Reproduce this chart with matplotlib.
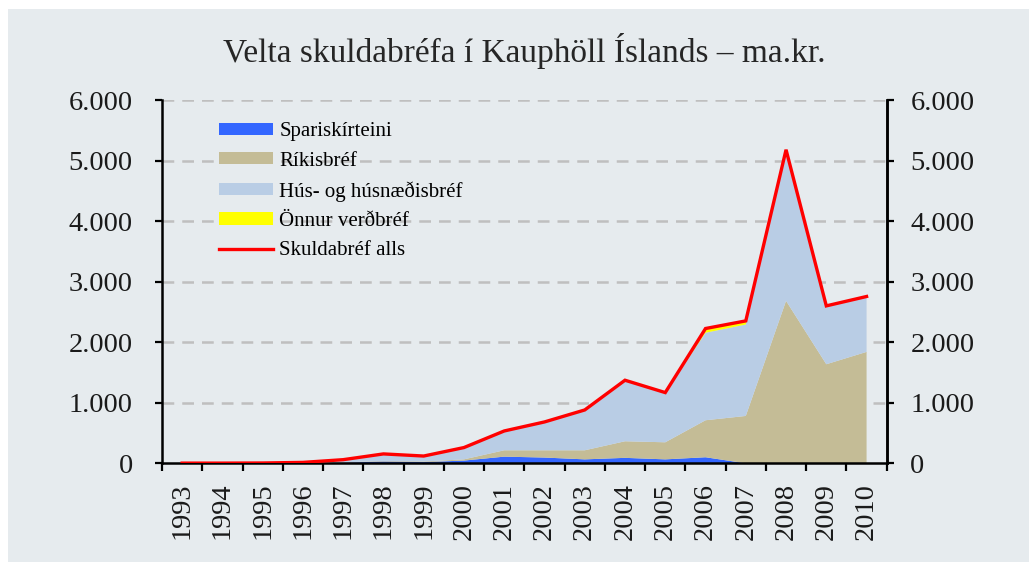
import matplotlib
matplotlib.use("Agg")
import matplotlib.pyplot as plt
from matplotlib.patches import Rectangle, Patch
from matplotlib.lines import Line2D
import numpy as np

years = [str(y) for y in range(1993, 2011)]
spariskirteini = [0, 0, 0, 2, 10, 30, 20, 45, 110, 95, 65, 90, 65, 100, 0, 0, 0, 0]
rikisbref = [0, 0, 0, 2, 5, 10, 10, 20, 105, 120, 150, 274, 282, 611, 782, 2683, 1636, 1840]
hus = [3, 3, 5, 11, 45, 115, 90, 195, 319, 468, 666, 1008, 821, 1445, 1510, 2496, 964, 915]
onnur = [0, 0, 0, 0, 0, 0, 0, 0, 0, 0, 0, 0, 0, 70, 60, 0, 0, 0]
alls = [3, 3, 5, 15, 60, 155, 120, 260, 534, 683, 881, 1372, 1168, 2226, 2352, 5179, 2600, 2755]
yticks = [0, 1000, 2000, 3000, 4000, 5000, 6000]
ytick_labels = ["0", "1.000", "2.000", "3.000", "4.000", "5.000", "6.000"]
series_names = ["Spariskírteini", "Ríkisbréf", "Hús- og húsnæðisbréf", "Önnur verðbréf", "Skuldabréf alls"]
title = "Velta skuldabréfa í Kauphöll Íslands – ma.kr."

c_blue = "#3366FF"
c_tan = "#C4BC96"
c_light = "#B9CDE5"
c_yellow = "#FFFF00"
c_red = "#FF0000"
bg = "#E6EBEE"

plt.rcParams['font.family'] = ['Liberation Serif', 'DejaVu Serif']

fig = plt.figure(figsize=(10.29, 5.62), dpi=100)
fig.patch.set_facecolor("white")
fig.patches.append(Rectangle((8/1029, 0), 1 - 8/1029, 1 - 9/562, transform=fig.transFigure,
                             facecolor=bg, edgecolor="none", zorder=-10))

ax = fig.add_axes([162/1029, 1 - 463.3/562, (886.7-162)/1029, (463.3-100)/562])
ax.set_facecolor(bg)
x = np.arange(len(years))
ax.stackplot(x, spariskirteini, rikisbref, hus, onnur,
             colors=[c_blue, c_tan, c_light, c_yellow], linewidth=0, zorder=2)
ax.plot(x, alls, color=c_red, lw=2.4, zorder=3, solid_joinstyle='miter')

ax.set_xlim(-0.5, len(years) - 0.5)
ax.set_ylim(0, 6000)
ax.set_yticks(yticks)
ax.set_yticklabels(ytick_labels)
ax.set_xticks(x)
ax.set_xticklabels(years, rotation=90)
ax.set_xticks(np.arange(-0.5, len(years)), minor=True)
ax.tick_params(axis='x', which='major', length=0, pad=14, labelsize=20.5, labelcolor="#1a1a1a")
ax.tick_params(axis='x', which='minor', length=6, width=1.6, direction='out')
ax.tick_params(axis='y', length=5, width=1.6, direction='out', pad=16, labelsize=20.5, labelcolor="#1a1a1a")

for yv in yticks[1:]:
    ax.axhline(yv, color="#BFBFBF", lw=1.8, dashes=(4.7, 3.2), zorder=1)

for s in ["left", "bottom", "right"]:
    ax.spines[s].set_linewidth(1.8)
ax.spines["top"].set_visible(False)

ax2 = ax.twinx()
ax2.set_ylim(0, 6000)
ax2.set_yticks(yticks)
ax2.set_yticklabels(ytick_labels)
ax2.tick_params(axis='y', length=5, width=1.6, direction='out', pad=12, labelsize=20.5, labelcolor="#1a1a1a")
for s in ["left", "bottom", "right", "top"]:
    ax2.spines[s].set_visible(False)
ax2.spines["right"].set_visible(True)
ax2.spines["right"].set_linewidth(1.8)

handles = [Patch(facecolor=c_blue, edgecolor='none'),
           Patch(facecolor=c_tan, edgecolor='none'),
           Patch(facecolor=c_light, edgecolor='none'),
           Patch(facecolor=c_yellow, edgecolor='none'),
           Line2D([0], [0], color=c_red, lw=2.4)]
leg = ax.legend(handles, series_names, loc='upper left', bbox_to_anchor=(0.067, 0.962),
                frameon=False, fontsize=15, handlelength=2.6, handleheight=0.53,
                handletextpad=0.3, labelspacing=0.5, borderaxespad=0)
leg.set_zorder(5)

fig.text(524/1029, 1 - 62/562, title, ha='center', va='baseline', fontsize=24, color="#262626")

fig.savefig("out.png", dpi=100, facecolor=fig.get_facecolor())
